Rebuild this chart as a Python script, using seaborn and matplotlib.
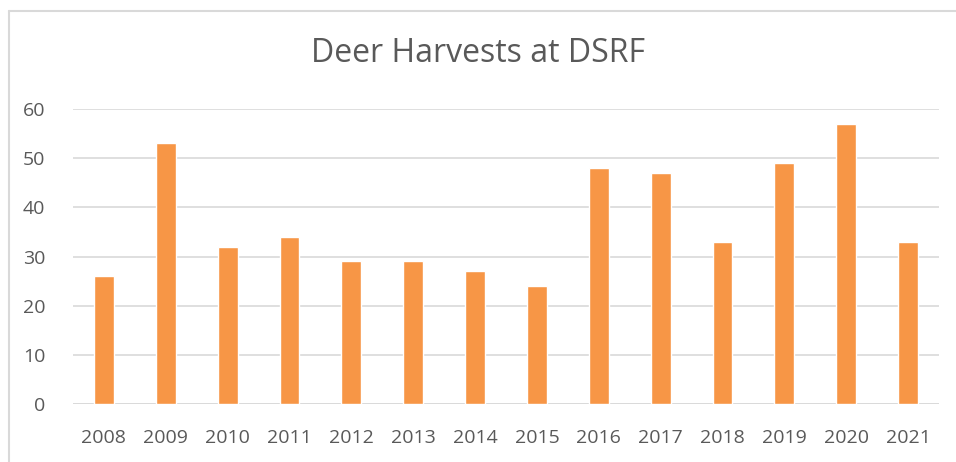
import matplotlib
matplotlib.use('Agg')
import matplotlib.pyplot as plt
import seaborn as sns
import pandas as pd
from matplotlib.lines import Line2D

years = ['2008', '2009', '2010', '2011', '2012', '2013', '2014',
         '2015', '2016', '2017', '2018', '2019', '2020', '2021']
harvests = [26, 53, 32, 34, 29, 29, 27, 24, 48, 47, 33, 49, 57, 33]

df = pd.DataFrame({'Year': years, 'Harvests': harvests})

sns.set_style('white')
plt.rcParams['font.family'] = ['Open Sans', 'DejaVu Sans']

fig = plt.figure(figsize=(9.56, 4.62), dpi=100)
ax = fig.add_axes([73 / 956, 58 / 462, 866 / 956, 295 / 462])

sns.barplot(data=df, x='Year', y='Harvests', color='#F79646',
            saturation=1, width=0.32, ax=ax, zorder=3)

ax.set_ylim(0, 60)
ax.set_xlim(-0.5, 13.5)
ax.set_yticks(range(0, 61, 10))
ax.yaxis.grid(True, color='#D9D9D9', linewidth=1.2, zorder=0)
ax.set_axisbelow(True)
for s in ax.spines.values():
    s.set_visible(False)
ax.axhline(0, color='#D9D9D9', linewidth=1.2, zorder=1)
ax.tick_params(axis='both', length=0, labelsize=14, labelcolor='#595959')
ax.tick_params(axis='x', pad=18)
ax.tick_params(axis='y', pad=20)
ax.set_xlabel('')
ax.set_ylabel('')

fig.text(0.5, 1 - 54 / 462, 'Deer Harvests at DSRF', ha='center', va='center',
         fontsize=23, color='#595959')

# chart border (cropped on right and bottom)
fig.add_artist(Line2D([8.5 / 956, 8.5 / 956], [0, 1 - 10.5 / 462],
                      transform=fig.transFigure, color='#D9D9D9', linewidth=1.5))
fig.add_artist(Line2D([8.5 / 956, 1], [1 - 10.5 / 462, 1 - 10.5 / 462],
                      transform=fig.transFigure, color='#D9D9D9', linewidth=1.5))

fig.savefig('out.png', dpi=100)
